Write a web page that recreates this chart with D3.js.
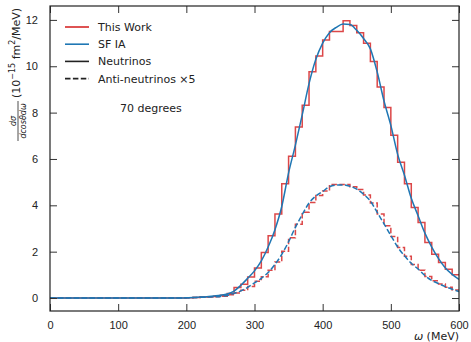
<!DOCTYPE html>
<html>
<head>
<meta charset="utf-8">
<script src="https://cdn.jsdelivr.net/npm/d3@7"></script>
<style>
  body { margin: 0; background: #fff; }
  svg { display: block; font-family: "DejaVu Sans", sans-serif; }
  .tick text { font-size: 11px; fill: #222; }
</style>
</head>
<body>
<svg id="chart" width="471" height="342"></svg>
<script>
// bins are 10 MeV wide, lower edges 0..590
var binEdges = d3.range(0, 600, 10);

// neutrino histogram (This Work)
var nuHist = [0,0,0,0,0,0,0,0,0,0, 0,0,0,0,0,0,0,0,0,0,
  0.01,0.02,0.04,0.06,0.08,0.12,0.2,0.45,0.59,0.91,
  1.29,1.96,2.69,3.63,4.93,6.12,7.38,8.32,9.76,10.44,
  11.13,11.5,11.5,11.96,11.76,11.45,10.99,10.2,9.11,8.22,
  7.02,5.86,4.93,3.91,3.26,2.4,1.89,1.53,1.24,1.0];

// anti-neutrino histogram x5 (This Work)
var antiHist = [0,0,0,0,0,0,0,0,0,0, 0,0,0,0,0,0,0,0,0,0,
  0.01,0.02,0.03,0.04,0.05,0.08,0.14,0.22,0.33,0.5,
  0.72,0.92,1.2,1.55,2.02,2.6,3.18,3.7,4.12,4.42,
  4.62,4.9,4.9,4.9,4.8,4.68,4.45,4.1,3.62,3.12,
  2.65,2.18,1.8,1.45,1.2,0.93,0.74,0.6,0.47,0.35];

// SF IA curves, sampled every 10 MeV from 0 to 600
var omega = d3.range(0, 610, 10);
var nuSF = [0,0,0,0,0,0,0,0,0,0, 0,0,0,0,0,0,0,0,0,0,
  0.01,0.02,0.04,0.06,0.09,0.12,0.17,0.3,0.55,0.85,
  1.17,1.6,2.2,2.95,3.95,5.4,6.6,7.9,9.25,10.3,
  11.0,11.45,11.68,11.82,11.8,11.55,11.2,10.75,9.75,8.5,
  7.45,6.2,5.3,4.3,3.55,2.8,2.2,1.7,1.3,1.02,0.8];
var antiSF = [0,0,0,0,0,0,0,0,0,0, 0,0,0,0,0,0,0,0,0,0,
  0.01,0.02,0.03,0.04,0.05,0.07,0.11,0.2,0.31,0.46,
  0.65,0.85,1.1,1.45,1.88,2.43,3.05,3.6,4.1,4.4,
  4.6,4.8,4.87,4.88,4.82,4.7,4.48,4.18,3.7,3.2,
  2.7,2.2,1.82,1.5,1.25,0.97,0.76,0.62,0.49,0.38,0.28];

var xTicks = [0, 100, 200, 300, 400, 500, 600];
var yTicks = [0, 2, 4, 6, 8, 10, 12];

var red = "#d62728", blue = "#1f77b4";

var margin = {top: 6, right: 12, bottom: 31, left: 50};
var width = 471 - margin.left - margin.right,
    height = 342 - margin.top - margin.bottom;

var svg = d3.select("#chart");
var g = svg.append("g").attr("transform", "translate(" + margin.left + "," + margin.top + ")");

var x = d3.scaleLinear().domain([0, 600]).range([0, width]);
var y = d3.scaleLinear().domain([-0.56, 12.6]).range([height, 0]);

g.append("defs").append("clipPath").attr("id", "clip")
  .append("rect").attr("width", width).attr("height", height);

// histogram as a step line over the bin edges
function histPoints(vals) {
  var pts = binEdges.map(function(e, i) { return [e, vals[i]]; });
  pts.push([600, vals[vals.length - 1]]);
  return pts;
}
var stepLine = d3.line()
  .x(function(d) { return x(d[0]); })
  .y(function(d) { return y(d[1]); })
  .curve(d3.curveStepAfter);
var smoothLine = d3.line()
  .x(function(d) { return x(d[0]); })
  .y(function(d) { return y(d[1]); })
  .curve(d3.curveMonotoneX);

var plot = g.append("g").attr("clip-path", "url(#clip)");

var dash = "5.5,2.4";
[[nuHist, null], [antiHist, dash]].forEach(function(h) {
  plot.append("path")
    .attr("d", stepLine(histPoints(h[0])))
    .attr("fill", "none")
    .attr("stroke", red)
    .attr("stroke-opacity", 0.85)
    .attr("stroke-width", 1.5)
    .attr("stroke-dasharray", h[1]);
});
[[nuSF, null], [antiSF, dash]].forEach(function(c) {
  plot.append("path")
    .attr("d", smoothLine(omega.map(function(w, i) { return [w, c[0][i]]; })))
    .attr("fill", "none")
    .attr("stroke", blue)
    .attr("stroke-width", 1.5)
    .attr("stroke-dasharray", c[1]);
});

// axes, ticks pointing inward on all four sides
var tl = 7;
g.append("g").attr("transform", "translate(0," + height + ")")
  .call(d3.axisBottom(x).tickValues(xTicks).tickSizeInner(-tl).tickSizeOuter(0).tickPadding(tl + 3));
g.append("g")
  .call(d3.axisTop(x).tickValues(xTicks).tickSizeInner(-tl).tickSizeOuter(0).tickFormat(""));
g.append("g")
  .call(d3.axisLeft(y).tickValues(yTicks).tickSizeInner(-tl).tickSizeOuter(0).tickPadding(tl + 5));
g.append("g").attr("transform", "translate(" + width + ",0)")
  .call(d3.axisRight(y).tickValues(yTicks).tickSizeInner(-tl).tickSizeOuter(0).tickFormat(""));
g.selectAll(".domain").remove();
g.selectAll(".tick line").attr("stroke", "#333").attr("stroke-width", 1);

g.append("rect")
  .attr("width", width).attr("height", height)
  .attr("fill", "none").attr("stroke", "#222").attr("stroke-width", 1.2);

// x label
var xl = svg.append("text")
  .attr("x", margin.left + width).attr("y", 340)
  .attr("text-anchor", "end")
  .attr("font-size", 11).attr("fill", "#222");
xl.append("tspan").attr("font-style", "italic").text("ω");
xl.append("tspan").text(" (MeV)");

// y label: fraction + units, rotated
var yl = svg.append("g").attr("transform", "translate(20,121) rotate(-90)");
yl.append("line")
  .attr("x1", -20).attr("x2", 20).attr("y1", -2).attr("y2", -2)
  .attr("stroke", "#222").attr("stroke-width", 0.8);
yl.append("text").attr("x", 0).attr("y", -4).attr("text-anchor", "middle")
  .attr("font-size", 8).attr("font-style", "italic").attr("fill", "#222").text("dσ");
yl.append("text").attr("x", 0).attr("y", 6).attr("text-anchor", "middle")
  .attr("font-size", 8).attr("font-style", "italic").attr("fill", "#222").text("dcosθdω");
var unit = yl.append("text").attr("x", 23).attr("y", 0)
  .attr("font-size", 11).attr("fill", "#222");
unit.append("tspan").text("(10");
unit.append("tspan").attr("font-size", 8).attr("dy", -5).text("−15");
unit.append("tspan").attr("dy", 5).text(" fm");
unit.append("tspan").attr("font-size", 8).attr("dy", -5).text("2");
unit.append("tspan").attr("dy", 5).text("/MeV)");

// legend
var legendItems = [
  {label: "This Work", color: red, dash: null},
  {label: "SF IA", color: blue, dash: null},
  {label: "Neutrinos", color: "#222", dash: null},
  {label: "Anti-neutrinos ×5", color: "#222", dash: dash}
];
var legend = svg.selectAll(".legend")
  .data(legendItems)
  .enter().append("g")
  .attr("class", "legend")
  .attr("transform", function(d, i) { return "translate(65," + (27 + i * 17.2) + ")"; });
legend.append("line")
  .attr("x1", 0).attr("x2", 24)
  .attr("stroke", function(d) { return d.color; })
  .attr("stroke-width", 1.6)
  .attr("stroke-dasharray", function(d) { return d.dash; });
legend.append("text")
  .attr("x", 33).attr("y", 4)
  .attr("font-size", 11).attr("fill", "#222")
  .text(function(d) { return d.label; });

svg.append("text")
  .attr("x", 120).attr("y", 112)
  .attr("font-size", 11).attr("fill", "#222")
  .text("70 degrees");
</script>
</body>
</html>
